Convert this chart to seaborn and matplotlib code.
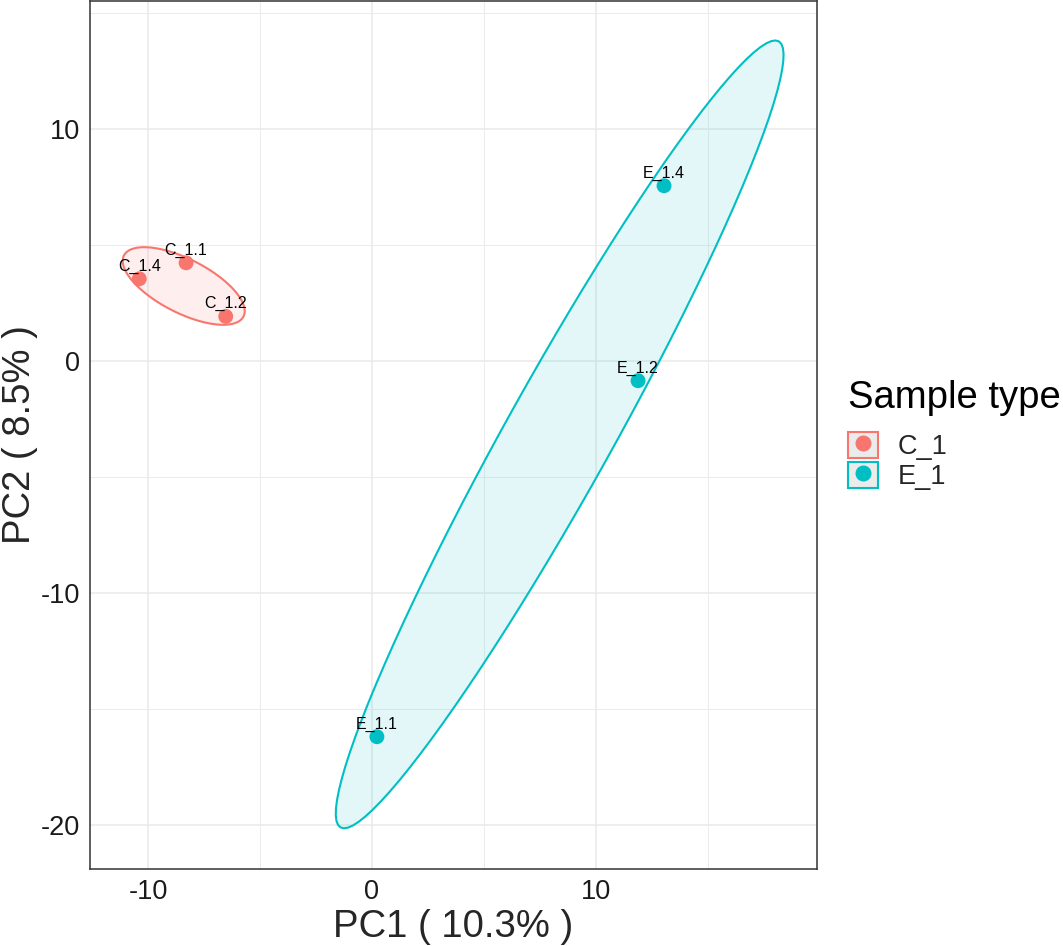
import numpy as np
import pandas as pd
import matplotlib
matplotlib.use('Agg')
import matplotlib.pyplot as plt
import seaborn as sns
from matplotlib.patches import Polygon, Patch
from matplotlib.lines import Line2D
from matplotlib.legend_handler import HandlerTuple
from matplotlib.ticker import MultipleLocator

# PCA scores
samples = ['C_1.1', 'C_1.4', 'C_1.2', 'E_1.4', 'E_1.2', 'E_1.1']
groups = ['C_1', 'C_1', 'C_1', 'E_1', 'E_1', 'E_1']
pc1 = [-8.3, -10.39, -6.53, 13.04, 11.88, 0.22]
pc2 = [4.22, 3.53, 1.91, 7.54, -0.86, -16.2]

group_order = ['C_1', 'E_1']
palette = {'C_1': '#F8766D', 'E_1': '#00BFC4'}

df = pd.DataFrame({'sample': samples, 'group': groups, 'PC1': pc1, 'PC2': pc2})

sns.set_style('white')
plt.rcParams['font.family'] = ['Liberation Sans', 'DejaVu Sans']
plt.rcParams['axes.unicode_minus'] = False

fig = plt.figure(figsize=(10.63, 9.46), dpi=100)
ax = fig.add_axes([90 / 1063, 1 - 869 / 946, 727 / 1063, 868 / 946])

# ellipse per group, from the group's covariance
def group_ellipse(x, y, scale=1.41, n=101):
    pts = np.column_stack([x, y])
    center = pts.mean(axis=0)
    cov = np.cov(pts, rowvar=False)
    vals, vecs = np.linalg.eigh(cov)
    t = np.linspace(0, 2 * np.pi, n)
    circle = np.column_stack([np.cos(t), np.sin(t)])
    return center + scale * (circle * np.sqrt(vals)) @ vecs.T

for g in group_order:
    sub = df[df['group'] == g]
    poly = group_ellipse(sub['PC1'].values, sub['PC2'].values)
    ax.add_patch(Polygon(poly, closed=True, facecolor=palette[g], alpha=0.11,
                         edgecolor='none', zorder=1))
    ax.add_patch(Polygon(poly, closed=True, facecolor='none',
                         edgecolor=palette[g], linewidth=1.5, zorder=2))

sns.scatterplot(data=df, x='PC1', y='PC2', hue='group', hue_order=group_order,
                palette=palette, s=115, edgecolor='none', legend=False, ax=ax, zorder=3)

for _, r in df.iterrows():
    ax.annotate(r['sample'], (r['PC1'], r['PC2']), xytext=(0, 5.8),
                textcoords='offset points', ha='center', va='baseline',
                fontsize=11.5, color='black', zorder=4)

ax.set_xlim(-12.59, 19.87)
ax.set_ylim(-21.9, 15.5)
ax.xaxis.set_major_locator(MultipleLocator(10))
ax.yaxis.set_major_locator(MultipleLocator(10))
ax.xaxis.set_minor_locator(MultipleLocator(5))
ax.yaxis.set_minor_locator(MultipleLocator(5))
ax.grid(which='major', color='#EBEBEB', linewidth=1.2, zorder=0)
ax.grid(which='minor', color='#EBEBEB', linewidth=0.7, zorder=0)
ax.set_axisbelow(True)
for sp in ax.spines.values():
    sp.set_color('#333333')
    sp.set_linewidth(1.1)
ax.tick_params(which='major', direction='out', length=3.8, width=1.1, color='#333333',
               labelsize=19.5, labelcolor='#1a1a1a', pad=3.5)
ax.tick_params(which='minor', length=0)
ax.set_xlabel('PC1 ( 10.3% )', fontsize=27.5, labelpad=3)
ax.set_ylabel('PC2 ( 8.5% )', fontsize=27.5, labelpad=1.5)

# legend title drawn separately to get the ggplot-like gap above the keys
fig.text(848 / 1063, 1 - 408 / 946, 'Sample type', fontsize=27.5,
         ha='left', va='baseline', color='black')

handles = [(Patch(facecolor='#EBEBEB', edgecolor=palette[g], linewidth=1.5),
            Line2D([], [], marker='o', linestyle='none', color=palette[g], markersize=10.5))
           for g in group_order]
leg = fig.legend(handles, group_order, loc='upper left',
                 bbox_to_anchor=(848 / 1063, 1 - 432 / 946), frameon=False,
                 handler_map={tuple: HandlerTuple(ndivide=1)},
                 fontsize=19.5, handlelength=1.1, handleheight=1.1,
                 labelspacing=0.05, handletextpad=0.75, borderpad=0, borderaxespad=0)

fig.savefig('out.png', dpi=100)
